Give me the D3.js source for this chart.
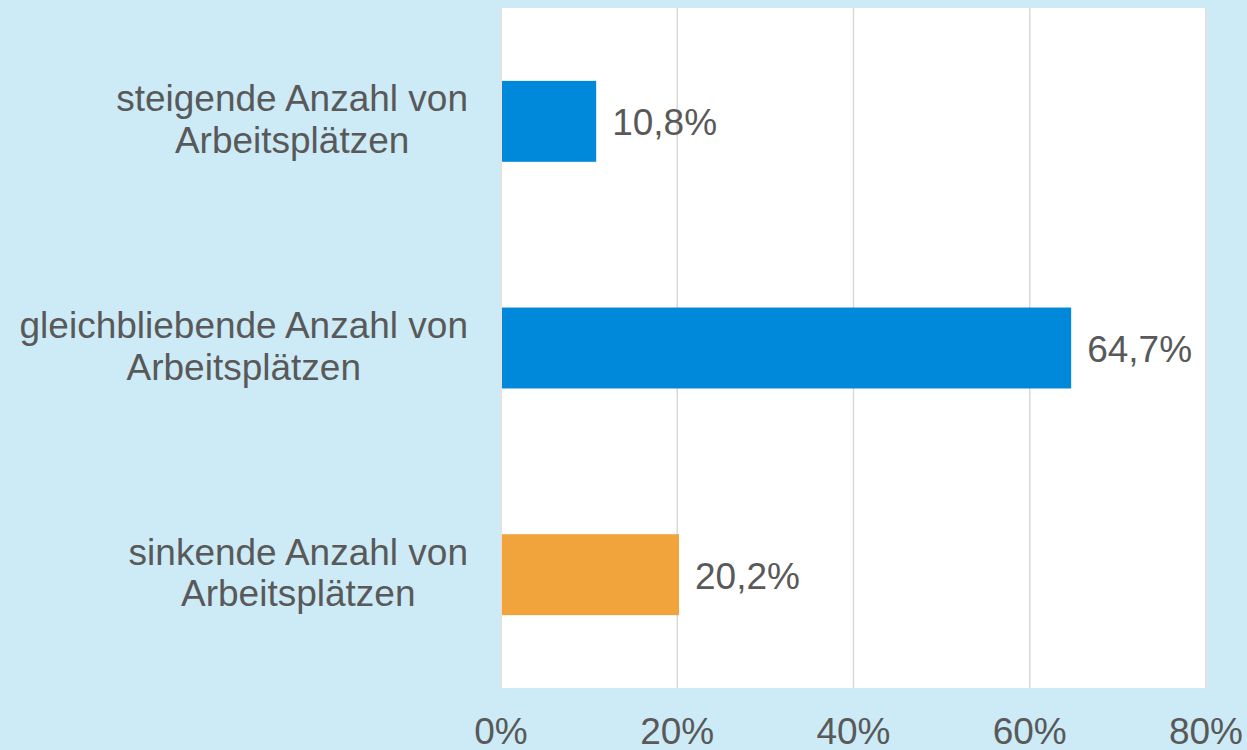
<!DOCTYPE html>
<html>
<head>
  <meta charset="utf-8">
  <title>Arbeitsplätze</title>
  <script src="https://d3js.org/d3.v7.min.js"></script>
  <style>
  body {
    margin: 0;
    background: #cdebf6;
  }

  svg {
    display: block;
    background: #cdebf6;
  }

  text {
    font-family: "Liberation Sans", Arial, sans-serif;
    fill: #595959;
    font-size: 37px;
  }

  .grid line {
    stroke: #d9d9d9;
    stroke-width: 1.5;
  }
  </style>
</head>
<body>
  <script>

    var categories = [
      ["steigende Anzahl von", "Arbeitsplätzen"],
      ["gleichbliebende Anzahl von", "Arbeitsplätzen"],
      ["sinkende Anzahl von", "Arbeitsplätzen"]
    ];
    var values = [10.8, 64.7, 20.2];
    var barColors = ["#0088da", "#0088da", "#f1a43b"];
    var valueLabels = ["10,8%", "64,7%", "20,2%"];
    var ticks = [0, 20, 40, 60, 80];
    var tickLabels = ["0%", "20%", "40%", "60%", "80%"];

    var width = 1247;
    var height = 750;

    var plot = { left: 501, right: 1206, top: 8, bottom: 688 };

    var svg = d3.select("body")
      .append("svg")
      .attr("width", width)
      .attr("height", height);

    var x = d3.scaleLinear()
      .domain([0, 80])
      .range([plot.left, plot.right]);

    var y = d3.scaleBand()
      .domain(d3.range(categories.length))
      .range([plot.top, plot.bottom])
      .paddingInner(0.643)
      .paddingOuter(0.3215);

    // white plot area
    svg.append("rect")
      .attr("x", plot.left - 1)
      .attr("y", plot.top)
      .attr("width", plot.right - plot.left + 2)
      .attr("height", plot.bottom - plot.top)
      .attr("fill", "#fff");

    var grid = svg.append("g")
      .attr("class", "grid");

    grid.selectAll("line")
      .data(ticks)
      .enter()
      .append("line")
      .attr("x1", function(d) { return x(d); })
      .attr("x2", function(d) { return x(d); })
      .attr("y1", plot.top)
      .attr("y2", plot.bottom);

    svg.append("g")
      .selectAll("rect")
      .data(values)
      .enter()
      .append("rect")
      .attr("x", x(0) + 1)
      .attr("y", function(d, i) { return y(i); })
      .attr("width", function(d) { return x(d) - x(0) - 1; })
      .attr("height", y.bandwidth())
      .attr("fill", function(d, i) { return barColors[i]; });

    // value labels
    svg.append("g")
      .selectAll("text")
      .data(values)
      .enter()
      .append("text")
      .attr("x", function(d) { return x(d) + 16; })
      .attr("y", function(d, i) { return y(i) + y.bandwidth() / 2 + 14; })
      .text(function(d, i) { return valueLabels[i]; });

    // x tick labels
    svg.append("g")
      .selectAll("text")
      .data(ticks)
      .enter()
      .append("text")
      .attr("x", function(d) { return x(d); })
      .attr("y", 744)
      .attr("text-anchor", "middle")
      .text(function(d, i) { return tickLabels[i]; });

    // category labels: block right-aligned, lines centred on each other
    var labelRight = 468;
    var labels = svg.append("g")
      .selectAll("g")
      .data(categories)
      .enter()
      .append("g");

    labels.each(function(lines, i) {
      var g = d3.select(this);
      var cy = y(i) + y.bandwidth() / 2;
      var texts = g.selectAll("text")
        .data(lines)
        .enter()
        .append("text")
        .attr("y", function(d, j) { return cy - 10 + j * 41.5; })
        .attr("text-anchor", "middle")
        .text(function(d) { return d; });
      var maxW = 0;
      texts.each(function() {
        maxW = Math.max(maxW, this.getComputedTextLength());
      });
      texts.attr("x", labelRight - maxW / 2);
    });
  </script>
</body>
</html>
